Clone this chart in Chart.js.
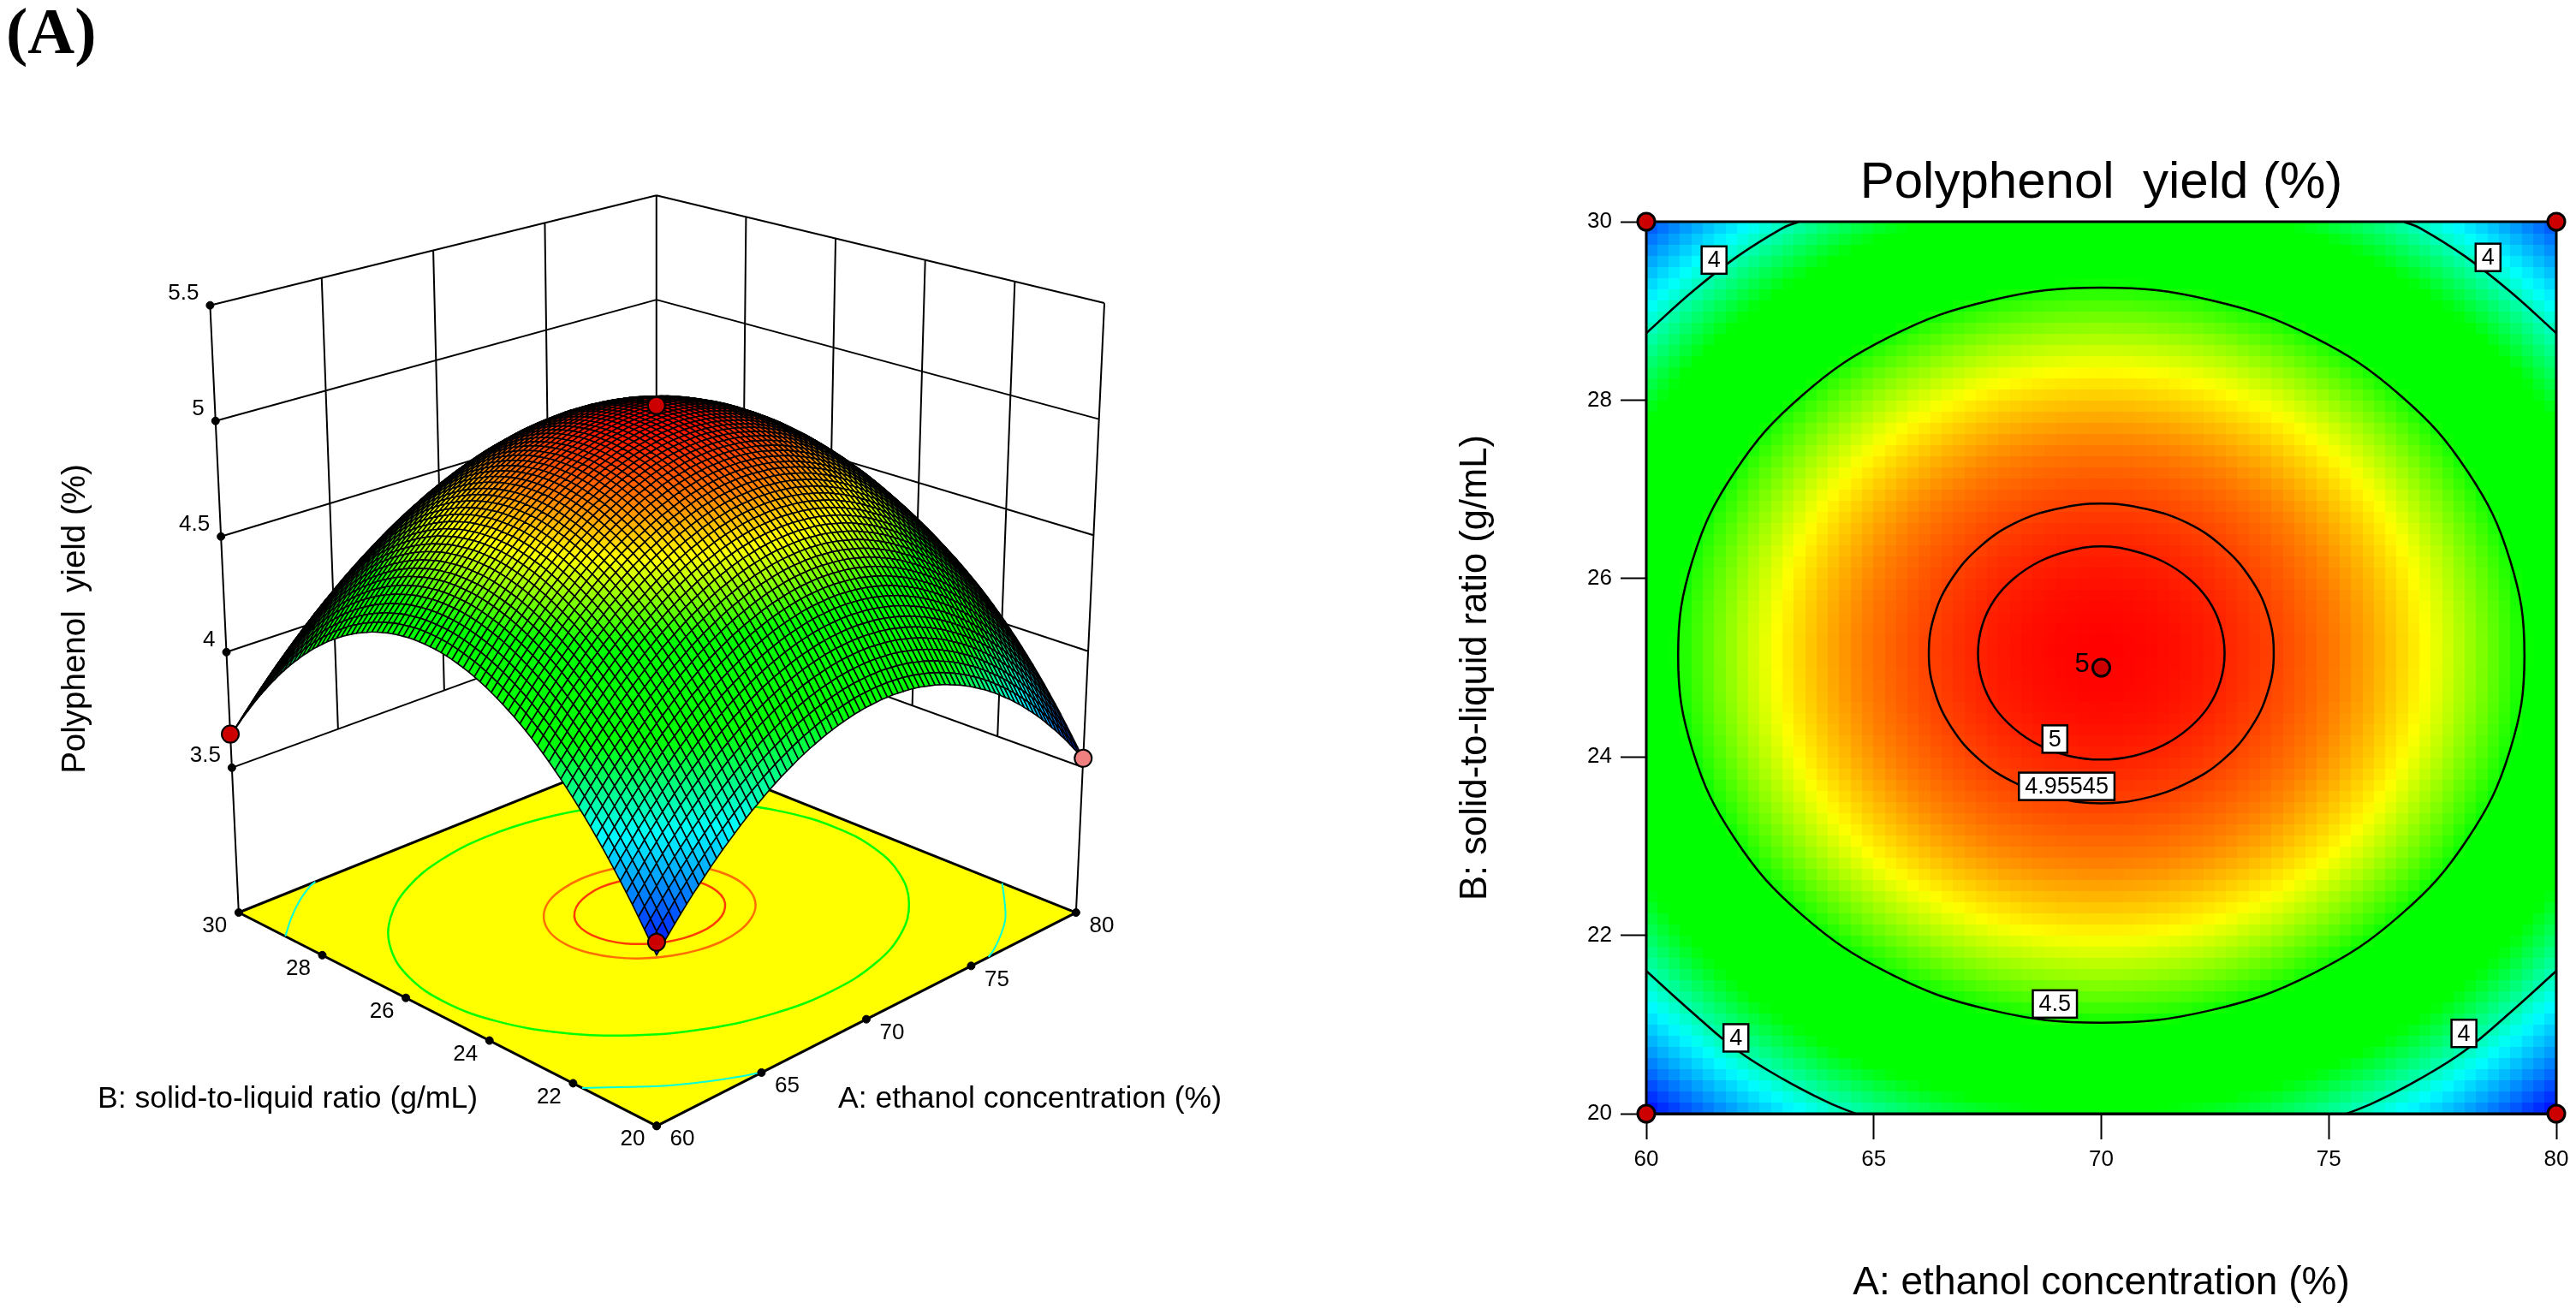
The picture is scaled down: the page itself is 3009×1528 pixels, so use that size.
<!DOCTYPE html>
<html>
<head>
<meta charset="utf-8">
<title>Polyphenol yield (%)</title>
<script src="https://cdn.jsdelivr.net/npm/chart.js@4/dist/chart.umd.js"></script>
<style>
  html, body { margin: 0; background: #fff; overflow: hidden; }
  canvas { position: absolute; top: 0; }
  #surfaceChart { left: 0; }
  #contourChart { left: 1560px; }
</style>
</head>
<body>
<canvas id="surfaceChart" width="1560" height="1528"></canvas>
<canvas id="contourChart" width="1449" height="1528"></canvas>
<script>
// ---------------- DATA ----------------
const ticksA = [60, 65, 70, 75, 80];
const ticksB = [20, 22, 24, 26, 28, 30];
const ticksYield = [3.5, 4, 4.5, 5, 5.5];

// grid levels, 81 nodes per factor
const levelsA = [60,60.25,60.5,60.75,61,61.25,61.5,61.75,62,62.25,62.5,62.75,63,63.25,63.5,63.75,64,64.25,64.5,64.75,65,65.25,65.5,65.75,66,66.25,66.5,66.75,67,67.25,67.5,67.75,68,68.25,68.5,68.75,69,69.25,69.5,69.75,70,70.25,70.5,70.75,71,71.25,71.5,71.75,72,72.25,72.5,72.75,73,73.25,73.5,73.75,74,74.25,74.5,74.75,75,75.25,75.5,75.75,76,76.25,76.5,76.75,77,77.25,77.5,77.75,78,78.25,78.5,78.75,79,79.25,79.5,79.75,80];
const levelsB = [20,20.125,20.25,20.375,20.5,20.625,20.75,20.875,21,21.125,21.25,21.375,21.5,21.625,21.75,21.875,22,22.125,22.25,22.375,22.5,22.625,22.75,22.875,23,23.125,23.25,23.375,23.5,23.625,23.75,23.875,24,24.125,24.25,24.375,24.5,24.625,24.75,24.875,25,25.125,25.25,25.375,25.5,25.625,25.75,25.875,26,26.125,26.25,26.375,26.5,26.625,26.75,26.875,27,27.125,27.25,27.375,27.5,27.625,27.75,27.875,28,28.125,28.25,28.375,28.5,28.625,28.75,28.875,29,29.125,29.25,29.375,29.5,29.625,29.75,29.875,30];

// yield read along the two centre lines of the response surface
const yieldAlongA = [4.407,4.439,4.469,4.499,4.529,4.557,4.585,4.611,4.637,4.663,4.687,4.711,4.733,4.755,4.777,4.797,4.817,4.835,4.853,4.871,4.887,4.903,4.917,4.931,4.945,4.957,4.969,4.979,4.989,4.999,5.007,5.015,5.021,5.027,5.033,5.037,5.041,5.043,5.045,5.047,5.047,5.047,5.045,5.043,5.041,5.037,5.033,5.027,5.021,5.015,5.007,4.999,4.989,4.979,4.969,4.957,4.945,4.931,4.917,4.903,4.887,4.871,4.853,4.835,4.817,4.797,4.777,4.755,4.733,4.711,4.687,4.663,4.637,4.611,4.585,4.557,4.529,4.499,4.469,4.439,4.407];
const yieldAlongB = [4.188,4.229,4.269,4.308,4.347,4.384,4.420,4.455,4.489,4.522,4.554,4.585,4.615,4.644,4.672,4.699,4.725,4.750,4.774,4.797,4.819,4.840,4.860,4.879,4.897,4.913,4.929,4.944,4.958,4.971,4.983,4.994,5.004,5.012,5.020,5.027,5.033,5.038,5.042,5.044,5.046,5.047,5.047,5.046,5.043,5.040,5.036,5.031,5.024,5.017,5.009,4.999,4.989,4.978,4.965,4.952,4.938,4.922,4.906,4.889,4.870,4.851,4.831,4.809,4.787,4.763,4.739,4.714,4.687,4.660,4.631,4.602,4.571,4.540,4.507,4.474,4.439,4.404,4.367,4.330,4.291];
const yieldPeak = 5.047;

// contour lines
const contour5A = [72.71,72.62,72.35,71.92,71.36,70.7,70,69.3,68.64,68.08,67.65,67.38,67.29,67.38,67.65,68.08,68.64,69.3,70,70.7,71.36,71.92,72.35,72.62,72.71];
const contour5B = [25.16,25.47,25.76,26,26.19,26.31,26.36,26.31,26.19,26,25.76,25.47,25.16,24.85,24.56,24.32,24.13,24.01,23.97,24.01,24.13,24.32,24.56,24.85,25.16];
const contour495A = [73.79,73.66,73.28,72.68,71.9,70.98,70,69.02,68.1,67.32,66.72,66.34,66.21,66.34,66.72,67.32,68.1,69.02,70,70.98,71.9,72.68,73.28,73.66,73.79];
const contour495B = [25.16,25.6,26,26.35,26.62,26.78,26.84,26.78,26.62,26.35,26,25.6,25.16,24.73,24.32,23.97,23.71,23.54,23.48,23.54,23.71,23.97,24.32,24.73,25.16];
const contour45A = [79.3,78.98,78.05,76.58,74.65,72.41,70,67.59,65.35,63.42,61.95,61.02,60.7,61.02,61.95,63.42,65.35,67.59,70,72.41,74.65,76.58,78.05,78.98,79.3];
const contour45B = [25.14,26.21,27.2,28.05,28.71,29.12,29.26,29.12,28.71,28.05,27.2,26.21,25.14,24.07,23.08,22.23,21.57,21.16,21.02,21.16,21.57,22.23,23.08,24.07,25.14];
const contour4TopLeftA = [60,61,62,63,63.35];
const contour4TopLeftB = [28.75,29.21,29.61,29.93,30];
const contour4TopRightA = [76.65,77,78,79,80];
const contour4TopRightB = [30,29.93,29.61,29.21,28.75];
const contour4BottomLeftA = [60,61,62,63,64,64.6];
const contour4BottomLeftB = [21.6,21.14,20.71,20.39,20.125,20];
const contour4BottomRightA = [75.4,76,77,78,79,80];
const contour4BottomRightB = [20,20.125,20.39,20.71,21.14,21.6];

// contour labels on the right hand plot
const labelTexts = ["4", "4", "4", "4", "4.5", "4.95545", "5"];
const labelA = [61.49, 78.5, 61.97, 77.97, 68.98, 69.24, 68.98];
const labelB = [29.57, 29.6, 20.85, 20.9, 21.23, 23.67, 24.2];

// design points
const designA = [60, 60, 80, 80, 70];
const designB = [20, 30, 20, 30, 25];
const designYield = [3.6, 3.66, 3.55, 3.62, 5.07];

// ---------------- COLOURS ----------------
const colourStops = [
  [3.55, 0, 0, 255], [3.92, 0, 255, 255], [4.2, 0, 255, 0], [4.48, 0, 255, 0],
  [4.72, 255, 255, 0], [4.87, 255, 128, 0], [5.05, 255, 0, 0]
];

function yieldColour(z) {
  if (z <= colourStops[0][0]) return "rgb(0,0,255)";
  for (let s = 1; s < colourStops.length; s++) {
    const a = colourStops[s - 1], b = colourStops[s];
    if (z <= b[0]) {
      const t = (z - a[0]) / (b[0] - a[0]);
      return `rgb(${a[1] + (b[1] - a[1]) * t | 0},${a[2] + (b[2] - a[2]) * t | 0},${a[3] + (b[3] - a[3]) * t | 0})`;
    }
  }
  return "rgb(255,0,0)";
}

function gridYield(i, j) {
  return yieldAlongA[i] + yieldAlongB[j] - yieldPeak;
}

// closed contours overlap by one point and hide the two end pieces,
// so the curve has no kink where it joins
function overlapLoop(list) {
  const n = list.length;
  return list[0] === list[n - 1] ? [list[n - 2], ...list, list[1]] : list;
}
function loopSegment(as) {
  if (as[0] !== as[as.length - 1]) return {};
  const last = as.length + 1;
  return {
    borderColor: ctx => (ctx.p0DataIndex === 0 || ctx.p1DataIndex === last) ? "rgba(0,0,0,0)" : undefined
  };
}

// ---------------- 3D PROJECTION ----------------
function project(a, b, w) {
  const u = (a - 60) / 20, v = (b - 20) / 10;
  const d = 1 + 0.134 * u + 0.138 * v - 0.0724 * w;
  return {
    x: (767 + 658.3 * u - 449.7 * v - 55.8 * w) / d,
    y: (1315.3 - 106.4 * u - 102.2 * v - 833 * w) / d
  };
}
const surfaceW = z => (z - 2.849) * 0.3793;
const lerp = (p, q, t) => ({ x: p.x + (q.x - p.x) * t, y: p.y + (q.y - p.y) * t });

// the box, its ticks and its grid are spaced evenly along each edge
function boxCorner(a, b, z) {
  return lerp(project(a, b, 0.2506), project(a, b, 1), (z - 3.5) / 2);
}
const leftWall = (a, z) => lerp(boxCorner(60, 30, z), boxCorner(80, 30, z), (a - 60) / 20);
const rightWall = (b, z) => lerp(boxCorner(80, 20, z), boxCorner(80, 30, z), (b - 20) / 10);
const floorFront = project(60, 20, 0);
const floorTickA = a => lerp(floorFront, project(80, 20, 0), (a - 60) / 20);
const floorTickB = b => lerp(floorFront, project(60, 30, 0), (b - 20) / 10);

function onFloor(as, bs) {
  const loopA = overlapLoop(as), loopB = overlapLoop(bs);
  return loopA.map((a, n) => project(a, loopB[n], 0));
}

const gap = { x: null, y: null };
const wallLines = [];
ticksA.forEach(a => wallLines.push(leftWall(a, 3.5), leftWall(a, 5.5), gap));
ticksB.forEach(b => wallLines.push(rightWall(b, 3.5), rightWall(b, 5.5), gap));
ticksYield.forEach(z => {
  wallLines.push(leftWall(60, z), leftWall(80, z), gap);
  wallLines.push(rightWall(30, z), rightWall(20, z), gap);
});
wallLines.push(boxCorner(60, 30, 3.5), project(60, 30, 0), gap);
wallLines.push(boxCorner(80, 20, 3.5), project(80, 20, 0), gap);

const surfacePoints = [];
levelsB.forEach((b, j) => levelsA.forEach((a, i) => surfacePoints.push(project(a, b, surfaceW(gridYield(i, j))))));

// ---------------- TEXT HELPER ----------------
function drawText(ctx, text, x, y, font, align, angle) {
  ctx.save();
  ctx.translate(x, y);
  if (angle) ctx.rotate(angle);
  ctx.font = font;
  ctx.fillStyle = "#000";
  ctx.textAlign = align || "center";
  ctx.textBaseline = "middle";
  ctx.fillText(text, 0, 0);
  ctx.restore();
}
const SANS = '"Liberation Sans"';

// ---------------- LEFT CHART: RESPONSE SURFACE ----------------
const surfacePlugin = {
  id: "surfaceMesh",
  afterDatasetDraw(chart, args) {
    if (chart.data.datasets[args.index].label !== "surface") return;
    const { ctx, scales } = chart;
    const n = levelsA.length;
    const px = surfacePoints.map(p => [scales.x.getPixelForValue(p.x), scales.y.getPixelForValue(p.y)]);
    ctx.save();
    ctx.strokeStyle = "#000";
    ctx.lineWidth = 1.6;
    ctx.lineJoin = "round";
    for (let j = n - 2; j >= 0; j--) {
      for (let i = n - 2; i >= 0; i--) {
        const p0 = px[j * n + i], p1 = px[j * n + i + 1], p2 = px[(j + 1) * n + i + 1], p3 = px[(j + 1) * n + i];
        const z = (gridYield(i, j) + gridYield(i + 1, j) + gridYield(i + 1, j + 1) + gridYield(i, j + 1)) / 4;
        ctx.beginPath();
        ctx.moveTo(p0[0], p0[1]);
        ctx.lineTo(p1[0], p1[1]);
        ctx.lineTo(p2[0], p2[1]);
        ctx.lineTo(p3[0], p3[1]);
        ctx.closePath();
        ctx.fillStyle = yieldColour(z);
        ctx.fill();
        ctx.stroke();
      }
    }
    ctx.restore();
  }
};

const surfaceTextPlugin = {
  id: "surfaceText",
  afterDatasetsDraw(chart) {
    const { ctx, scales } = chart;
    const sx = v => scales.x.getPixelForValue(v), sy = v => scales.y.getPixelForValue(v);
    const tickFont = `26px ${SANS}`;
    ticksYield.forEach(z => {
      const p = leftWall(60, z);
      drawText(ctx, String(z), sx(p.x) - 13, sy(p.y) - 14, tickFont, "right");
    });
    ticksA.forEach(a => {
      const p = floorTickA(a);
      drawText(ctx, String(a), sx(p.x) + 30, sy(p.y) + 16, tickFont);
    });
    ticksB.forEach(b => {
      const p = floorTickB(b);
      drawText(ctx, String(b), sx(p.x) - 28, sy(p.y) + 16, tickFont);
    });
    drawText(ctx, "Polyphenol  yield (%)", 88, 723, `38.5px ${SANS}`, "center", -Math.PI / 2);
    drawText(ctx, "B: solid-to-liquid ratio (g/mL)", 336, 1284, `35.5px ${SANS}`);
    drawText(ctx, "A: ethanol concentration (%)", 1203, 1284, `35.5px ${SANS}`);
    ctx.save();
    ctx.font = '700 76px "Liberation Serif"';
    ctx.fillStyle = "#000";
    ctx.textBaseline = "alphabetic";
    ctx.fillText("(A)", 7, 62);
    ctx.restore();
  }
};

function floorLine(as, bs, colour, width) {
  return {
    label: "floor contour", data: onFloor(as, bs), showLine: true, tension: 0.4,
    borderColor: colour, borderWidth: width, pointRadius: 0, segment: loopSegment(as)
  };
}

const floorCorners = [project(60, 20, 0), project(80, 20, 0), project(80, 30, 0), project(60, 30, 0), project(60, 20, 0)];
const visibleDesign = [0, 1, 2, 4];

new Chart(document.getElementById("surfaceChart"), {
  type: "scatter",
  data: {
    datasets: [
      {
        label: "design points",
        data: visibleDesign.map(n => project(designA[n], designB[n], surfaceW(designYield[n]))),
        pointRadius: 10, pointBorderWidth: 2, pointBorderColor: "#000",
        pointBackgroundColor: visibleDesign.map(n => designYield[n] < 3.56 ? "#f08080" : "#cc0000")
      },
      {
        label: "axis ticks",
        data: ticksYield.map(z => leftWall(60, z)).concat(ticksA.map(floorTickA), ticksB.map(floorTickB)),
        pointRadius: 4.5, pointBackgroundColor: "#000", pointBorderColor: "#000"
      },
      { label: "surface", data: surfacePoints, pointRadius: 0, showLine: false },
      floorLine(contour5A, contour5B, "#ff3c00", 2.5),
      floorLine(contour495A, contour495B, "#ff6e00", 2.5),
      floorLine(contour45A, contour45B, "#00ff00", 2.5),
      floorLine(contour4TopLeftA, contour4TopLeftB, "#00ffdd", 2),
      floorLine(contour4TopRightA, contour4TopRightB, "#00ffdd", 2),
      floorLine(contour4BottomLeftA, contour4BottomLeftB, "#00ffdd", 2),
      floorLine(contour4BottomRightA, contour4BottomRightB, "#00ffdd", 2),
      {
        label: "floor", data: floorCorners, showLine: true, fill: "shape",
        backgroundColor: "#ffff00", borderColor: "#000", borderWidth: 3, pointRadius: 0
      },
      { label: "walls", data: wallLines, showLine: true, borderColor: "#000", borderWidth: 2, pointRadius: 0, spanGaps: false }
    ]
  },
  options: {
    responsive: false,
    animation: false,
    devicePixelRatio: 1,
    layout: { padding: 0, autoPadding: false },
    plugins: { legend: { display: false }, tooltip: { enabled: false } },
    scales: {
      x: { type: "linear", display: false, min: 0, max: 1560 },
      y: { type: "linear", display: false, min: 0, max: 1528, reverse: true }
    }
  },
  plugins: [surfacePlugin, surfaceTextPlugin]
});

// ---------------- RIGHT CHART: CONTOUR PLOT ----------------
const heatPlugin = {
  id: "heatCells",
  beforeDatasetsDraw(chart) {
    const { ctx, scales, chartArea } = chart;
    const n = levelsA.length;
    for (let j = 0; j < n - 1; j++) {
      const top = Math.floor(scales.y.getPixelForValue(levelsB[j + 1]));
      const bottom = Math.ceil(scales.y.getPixelForValue(levelsB[j]));
      for (let i = 0; i < n - 1; i++) {
        const left = Math.floor(scales.x.getPixelForValue(levelsA[i]));
        const right = Math.ceil(scales.x.getPixelForValue(levelsA[i + 1]));
        const z = (gridYield(i, j) + gridYield(i + 1, j) + gridYield(i + 1, j + 1) + gridYield(i, j + 1)) / 4;
        ctx.fillStyle = yieldColour(z);
        ctx.fillRect(left, top, right - left, bottom - top);
      }
    }
    ctx.strokeStyle = "#000";
    ctx.lineWidth = 3;
    ctx.strokeRect(chartArea.left, chartArea.top, chartArea.width, chartArea.height);
  }
};

const contourLabelPlugin = {
  id: "contourLabels",
  afterDatasetsDraw(chart) {
    const { ctx, scales } = chart;
    const font = `27px ${SANS}`;
    labelTexts.forEach((text, n) => {
      const x = scales.x.getPixelForValue(labelA[n]), y = scales.y.getPixelForValue(labelB[n]);
      ctx.font = font;
      const w = ctx.measureText(text).width + 14;
      ctx.fillStyle = "#fff";
      ctx.strokeStyle = "#000";
      ctx.lineWidth = 2.5;
      ctx.fillRect(x - w / 2, y - 16, w, 32);
      ctx.strokeRect(x - w / 2, y - 16, w, 32);
      drawText(ctx, text, x, y + 1, font);
    });
    // value printed beside the centre point
    drawText(ctx, "5", scales.x.getPixelForValue(69.58), scales.y.getPixelForValue(25.03), `31px ${SANS}`);
  }
};

function contourLine(as, bs) {
  const loopA = overlapLoop(as), loopB = overlapLoop(bs);
  return {
    label: "contour", data: loopA.map((a, n) => ({ x: a, y: loopB[n] })), showLine: true, tension: 0.4,
    borderColor: "#000", borderWidth: 2.5, pointRadius: 0, segment: loopSegment(as)
  };
}

new Chart(document.getElementById("contourChart"), {
  type: "scatter",
  data: {
    datasets: [
      {
        label: "design points",
        data: designA.map((a, n) => ({ x: a, y: designB[n] })),
        pointRadius: 10, pointBorderWidth: 3, pointBorderColor: "#000", pointBackgroundColor: "#cc0000", clip: false
      },
      contourLine(contour5A, contour5B),
      contourLine(contour495A, contour495B),
      contourLine(contour45A, contour45B),
      contourLine(contour4TopLeftA, contour4TopLeftB),
      contourLine(contour4TopRightA, contour4TopRightB),
      contourLine(contour4BottomLeftA, contour4BottomLeftB),
      contourLine(contour4BottomRightA, contour4BottomRightB)
    ]
  },
  options: {
    responsive: false,
    animation: false,
    devicePixelRatio: 1,
    layout: { padding: { right: 23, top: 1 }, autoPadding: false },
    plugins: {
      legend: { display: false },
      tooltip: { enabled: false },
      title: {
        display: true,
        fullSize: false,
        text: "Polyphenol  yield (%)",
        color: "#000",
        font: { family: "Liberation Sans", size: 60, weight: "normal" },
        padding: { top: 177, bottom: 9 }
      }
    },
    scales: {
      x: {
        type: "linear", min: 60, max: 80,
        afterFit: s => { s.height = 227; },
        ticks: { stepSize: 5, color: "#000", padding: 8, maxRotation: 0, font: { family: "Liberation Sans", size: 26 } },
        grid: { drawOnChartArea: false, tickLength: 30, tickColor: "#000", tickWidth: 2 },
        border: { color: "#000", width: 3 },
        title: {
          display: true, text: "A: ethanol concentration (%)", color: "#000",
          font: { family: "Liberation Sans", size: 46 }, padding: { top: 0, bottom: 1 }
        }
      },
      y: {
        type: "linear", min: 20, max: 30,
        afterFit: s => { s.width = 363; },
        ticks: { stepSize: 2, color: "#000", padding: 10, font: { family: "Liberation Sans", size: 26 } },
        grid: { drawOnChartArea: false, tickLength: 30, tickColor: "#000", tickWidth: 2 },
        border: { color: "#000", width: 3 },
        title: {
          display: true, text: "B: solid-to-liquid ratio (g/mL)", color: "#000",
          font: { family: "Liberation Sans", size: 43.5 }, padding: { top: 138, bottom: 0 }
        }
      }
    }
  },
  plugins: [heatPlugin, contourLabelPlugin]
});
</script>
</body>
</html>
